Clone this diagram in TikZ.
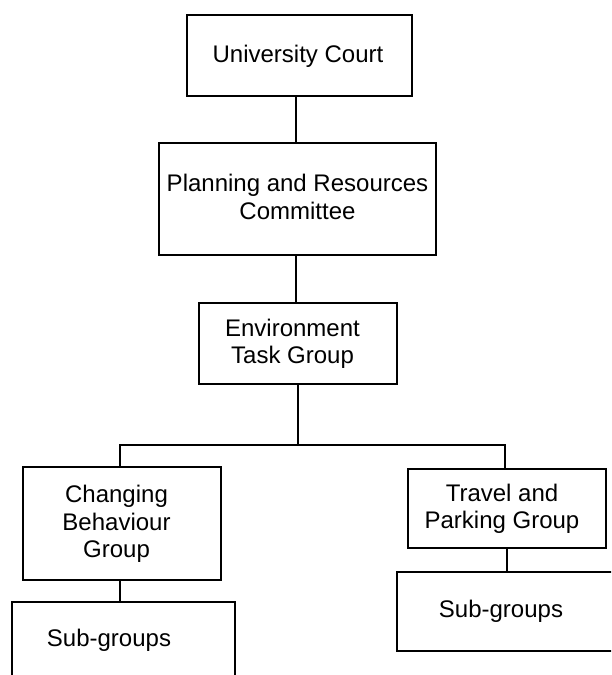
\documentclass[tikz,border=0pt]{standalone}
\usepackage{fontspec}
\setmainfont{Liberation Sans}
\begin{document}
\begin{tikzpicture}[x=1pt,y=-1pt,
  orgbox/.style={draw=black, line width=1.4pt, inner sep=0pt, fill=white},
  lbl/.style={font=\fontsize{24}{27.5}\selectfont, align=center, inner sep=0pt},
  conn/.style={draw=black, line width=1.4pt}]
\path[use as bounding box] (0,0) rectangle (611,675);
\clip (0,0) rectangle (611,675);
% boxes
\node[orgbox, minimum width=225pt, minimum height=81pt] (uc) at (299.5,55.5) {};
\node[orgbox, minimum width=277pt, minimum height=112pt] (prc) at (297.5,199) {};
\node[orgbox, minimum width=198pt, minimum height=81pt] (etg) at (298,343.5) {};
\node[orgbox, minimum width=198pt, minimum height=113pt] (cbg) at (122,523.5) {};
\node[orgbox, minimum width=198pt, minimum height=79pt] (tpg) at (507,508.5) {};
\node[orgbox, minimum width=223pt, minimum height=88pt] (sgl) at (123.5,646) {};
\node[orgbox, minimum width=228pt, minimum height=79pt] (sgr) at (511,611.5) {};
% labels
\node[lbl] (ucl) at (298,56) {University Court};
\node[lbl] (prcl) at (297.5,197) {Planning and Resources\\Committee};
\node[lbl] (etgl) at (292.5,344) {Environment\\Task Group};
\node[lbl] (cbgl) at (116.5,524) {Changing\\Behaviour\\Group};
\node[lbl] (tpgl) at (502,509) {Travel and\\Parking Group};
\node[lbl] (sgll) at (109,640) {Sub-groups};
\node[lbl] (sgrl) at (501,611) {Sub-groups};
% connectors
\coordinate (bus) at (298,445);
\draw[conn] ([xshift=-3.5pt]uc.south) -- ([xshift=-1.5pt]prc.north);
\draw[conn] ([xshift=-1.5pt]prc.south) -- ([xshift=-2pt]etg.north);
\draw[conn] (etg.south) -- (bus);
\draw[conn] ([xshift=-2pt]cbg.north) |- (bus) -| ([xshift=-2pt]tpg.north);
\draw[conn] ([xshift=-2pt]cbg.south) -- ([xshift=-2pt]cbg.south |- sgl.north);
\draw[conn] (tpg.south) -- (tpg.south |- sgr.north);
\end{tikzpicture}
\end{document}
